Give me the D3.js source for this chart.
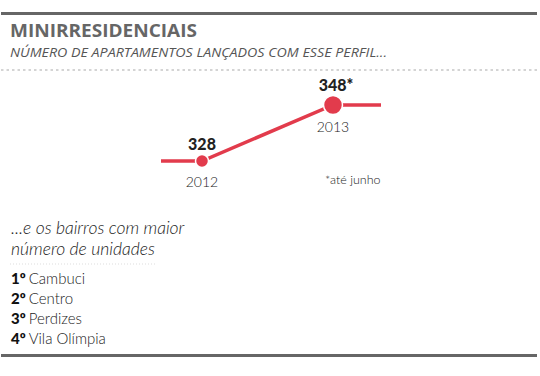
<!DOCTYPE html>
<html>
<head>
<meta charset="utf-8">
<script src="https://cdn.jsdelivr.net/npm/d3@7"></script>
<style>
  body { margin: 0; background: #fff; }
  svg { display: block; }
  .narrow { font-family: Lato, "Open Sans", sans-serif; }
</style>
</head>
<body>
<div id="chart"></div>
<script>
const width = 540;
const height = 376;

// data
const title = "MINIRRESIDENCIAIS";
const subtitle = "NÚMERO DE APARTAMENTOS LANÇADOS COM ESSE PERFIL...";
const years = ["2012", "2013"];
const values = [328, 348];
const valueLabels = ["328", "348*"];
const footnote = "*até junho";
const rankHeader = ["...e os bairros com maior", "número de unidades"];
const ranks = ["1º", "2º", "3º", "4º"];
const bairros = ["Cambuci", "Centro", "Perdizes", "Vila Olímpia"];

const red = "#e23b4c";
const grey = "#666";

const svg = d3.select("#chart")
  .append("svg")
  .attr("width", width)
  .attr("height", height);

// frame lines
svg.append("rect").attr("x", 1).attr("y", 12).attr("width", 536).attr("height", 3).attr("fill", grey);
svg.append("rect").attr("x", 1).attr("y", 354).attr("width", 536).attr("height", 3).attr("fill", grey);
svg.append("line")
  .attr("x1", 1).attr("x2", 537).attr("y1", 70).attr("y2", 70)
  .attr("stroke", "#aaa").attr("stroke-width", 1.2).attr("stroke-dasharray", "2.5,3");

svg.append("text")
  .attr("x", 10).attr("y", 37)
  .attr("font-family", "'Open Sans', sans-serif")
  .attr("font-weight", 700).attr("font-size", 17)
  .attr("fill", grey)
  .attr("textLength", 187).attr("lengthAdjust", "spacingAndGlyphs")
  .text(title);

svg.append("text")
  .attr("x", 10).attr("y", 57)
  .attr("font-family", "'Open Sans', sans-serif")
  .attr("font-style", "italic").attr("font-size", 12)
  .attr("fill", "#555")
  .attr("textLength", 377).attr("lengthAdjust", "spacingAndGlyphs")
  .text(subtitle);

// scales
const x = d3.scalePoint().domain(years).range([202, 333]);
const y = d3.scaleLinear().domain([328, 348]).range([161, 105]);
const r = d3.scaleLinear().domain([328, 348]).range([6.5, 9.5]);

const pts = years.map((yr, i) => ({ year: yr, value: values[i], label: valueLabels[i] }));

// stubs + connecting line
const first = pts[0], last = pts[pts.length - 1];
const lineData = [
  [x(first.year) - 41, y(first.value)],
  ...pts.map(d => [x(d.year), y(d.value)]),
  [x(last.year) + 48, y(last.value)]
];
svg.append("path")
  .attr("d", d3.line()(lineData))
  .attr("fill", "none")
  .attr("stroke", red)
  .attr("stroke-width", 3.5);

svg.selectAll("circle.pt")
  .data(pts)
  .enter()
  .append("circle")
  .attr("class", "pt")
  .attr("cx", d => x(d.year))
  .attr("cy", d => y(d.value))
  .attr("r", d => r(d.value))
  .attr("fill", red)
  .attr("stroke", "#fff")
  .attr("stroke-width", 1.5);

svg.selectAll("text.val")
  .data(pts)
  .enter()
  .append("text")
  .attr("class", "val narrow")
  .attr("x", (d, i) => x(d.year) + (i === pts.length - 1 ? 3 : 0))
  .attr("y", d => y(d.value) - r(d.value) - 5)
  .attr("text-anchor", "middle")
  .attr("font-weight", 900).attr("font-size", 16)
  .attr("fill", "#222")
  .text(d => d.label);

svg.selectAll("text.yr")
  .data(pts)
  .enter()
  .append("text")
  .attr("class", "yr narrow")
  .attr("x", d => x(d.year))
  .attr("y", d => y(d.value) + 26 + (r(d.value) - 6.5) * 0.4)
  .attr("text-anchor", "middle")
  .attr("font-weight", 300).attr("font-size", 14)
  .attr("fill", "#222")
  .text(d => d.year);

svg.append("text")
  .attr("class", "narrow")
  .attr("x", 325).attr("y", 184)
  .attr("font-weight", 300).attr("font-size", 12.5)
  .attr("fill", "#222")
  .text(footnote);

// ranking block
svg.selectAll("text.hdr")
  .data(rankHeader)
  .enter()
  .append("text")
  .attr("class", "hdr narrow")
  .attr("x", 11)
  .attr("y", (d, i) => 234 + i * 21)
  .attr("font-style", "italic").attr("font-weight", 300).attr("font-size", 17.5)
  .attr("fill", "#222")
  .text(d => d);

svg.append("line")
  .attr("x1", 10).attr("x2", 155).attr("y1", 264).attr("y2", 264)
  .attr("stroke", "#ddd").attr("stroke-width", 1).attr("stroke-dasharray", "1,2");

const items = svg.selectAll("text.item")
  .data(bairros)
  .enter()
  .append("text")
  .attr("class", "item narrow")
  .attr("x", 11)
  .attr("y", (d, i) => 284 + i * 20)
  .attr("font-size", 15)
  .attr("fill", "#222");

items.append("tspan")
  .attr("font-weight", 900)
  .attr("fill", "#111")
  .text((d, i) => ranks[i]);
items.append("tspan")
  .attr("dx", 3)
  .attr("font-weight", 300)
  .text(d => d);
</script>
</body>
</html>
